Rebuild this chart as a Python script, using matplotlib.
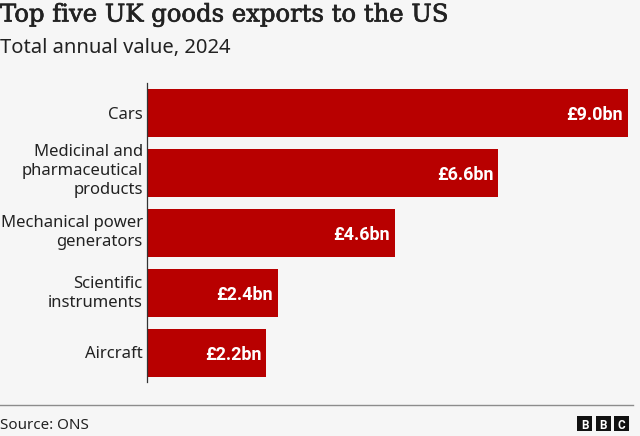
import matplotlib
matplotlib.use('Agg')
import matplotlib.pyplot as plt
import matplotlib.patheffects as pe
from matplotlib.patches import Rectangle
from matplotlib.transforms import ScaledTranslation, IdentityTransform

categories = ['Cars', 'Medicinal and\npharmaceutical\nproducts', 'Mechanical power\ngenerators',
              'Scientific\ninstruments', 'Aircraft']
values = [9.0, 6.57, 4.64, 2.45, 2.23]
value_labels = ['£9.0bn', '£6.6bn', '£4.6bn', '£2.4bn', '£2.2bn']

W, H = 640, 436
bg = '#f6f6f6'
red = '#b80000'
text_col = '#222222'

plt.rcParams['font.family'] = ['Noto Sans', 'DejaVu Sans']

fig = plt.figure(figsize=(W / 100, H / 100), dpi=100, facecolor=bg)

# axes box in pixels: x from 147 to 628, y from 83 to 382
ax = fig.add_axes([147 / W, 1 - 382 / H, 481 / W, 299 / H], facecolor=bg)
ypos = list(range(len(values)))
ax.barh(ypos, values, height=0.8, color=red)
ax.set_xlim(0, 9.0)
ax.set_ylim(4.483, -0.5)
ax.set_yticks(ypos)
ax.set_yticklabels(categories, fontsize=12, color=text_col, linespacing=1.23)
ax.tick_params(axis='y', length=0, pad=3)
ax.set_xticks([])
for s in ['top', 'right', 'bottom']:
    ax.spines[s].set_visible(False)
ax.spines['left'].set_linewidth(0.9)
ax.spines['left'].set_color('#333333')

# wrapped labels sit a little above the bar centre in the original (pixels up)
label_shift = [0, 5.5, 4, 3, 1]
for lab, dy in zip(ax.get_yticklabels(), label_shift):
    lab.set_transform(lab.get_transform() + ScaledTranslation(0, dy / 100, fig.dpi_scale_trans))

for y, v, lab in zip(ypos, values, value_labels):
    ax.text(v - 0.09, y, lab, ha='right', va='center_baseline', color='white',
            fontsize=13, fontweight='bold', family=['Roboto', 'DejaVu Sans'])

# headings
fig.text(0, 1 - 15 / H, 'Top five UK goods exports to the US', fontsize=17.5,
         family=['DejaVu Serif'], color=text_col, va='center',
         path_effects=[pe.withStroke(linewidth=0.5, foreground=text_col)])
fig.text(0, 1 - 48 / H, 'Total annual value, 2024', fontsize=14.5, color=text_col, va='center')

# footer
fig.add_artist(plt.Line2D([0, 633 / W], [1 - 405 / H, 1 - 405 / H], color='#8c8c8c', linewidth=1.0))
fig.text(0, 1 - 425 / H, 'Source: ONS', fontsize=10.9, color=text_col, va='center')

# BBC blocks
for x0, letter in zip([577, 596, 614], 'BBC'):
    fig.add_artist(Rectangle((x0 / W, 1 - 431 / H), 15 / W, 15 / H, transform=fig.transFigure,
                             facecolor='#111111', edgecolor='none'))
    fig.text((x0 + 7.5) / W, 1 - 423.5 / H, letter, color='white', fontsize=8.5, fontweight='bold',
             ha='center', va='center_baseline', family=['Roboto', 'DejaVu Sans'])

fig.savefig('out.png', dpi=100, facecolor=bg)
